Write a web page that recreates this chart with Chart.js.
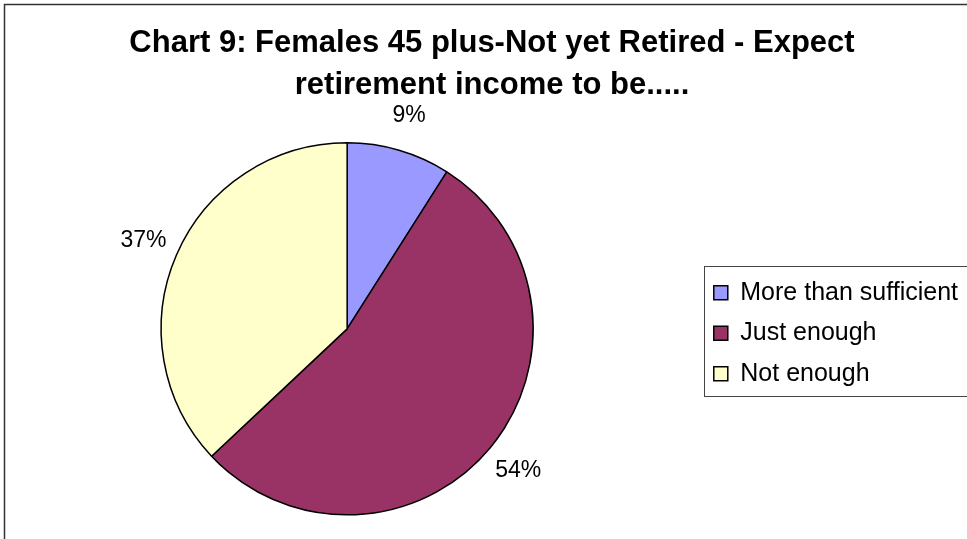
<!DOCTYPE html>
<html>
<head>
<meta charset="utf-8">
<title>Chart 9</title>
<script src="https://cdn.jsdelivr.net/npm/chart.js@4/dist/chart.umd.min.js"></script>
<style>
  html, body { margin: 0; padding: 0; background: #fff; overflow: hidden; }
  canvas { display: block; }
</style>
</head>
<body>
<canvas id="chart9" width="990" height="560"></canvas>
<script>
const titleLines = ['Chart 9: Females 45 plus-Not yet Retired - Expect', 'retirement income to be.....'];
const categories = ['More than sufficient', 'Just enough', 'Not enough'];
const shares = [9, 54, 37];
const sliceColors = ['#9999FF', '#993366', '#FFFFCC'];

const FONT = '"Liberation Sans", Arial, sans-serif';

// white page with a frame; right and bottom edges sit past the window
const frame = {
  id: 'frame',
  beforeDraw(chart) {
    const ctx = chart.ctx;
    ctx.save();
    ctx.fillStyle = '#fff';
    ctx.fillRect(0, 0, chart.width, chart.height);
    ctx.strokeStyle = '#333';
    ctx.lineWidth = 1.5;
    ctx.strokeRect(4.5, 4.5, chart.width - 9, chart.height - 9);
    ctx.restore();
  }
};

// empty box between pie and legend so the pie sits left of the title centre
// (display:false keeps it out of the legend's width share)
const gap = {
  id: 'gap',
  beforeInit(chart) {
    Chart.layouts.addBox(chart, {
      position: 'right',
      weight: 0,
      fullSize: false,
      options: { display: false },
      isHorizontal() { return false; },
      update(maxWidth, maxHeight) {
        this.width = 20;
        this.height = maxHeight;
      },
      draw() {}
    });
  }
};

// percentage text outside each slice
const sliceLabels = {
  id: 'sliceLabels',
  afterDatasetsDraw(chart) {
    const ctx = chart.ctx;
    const values = chart.data.datasets[0].data;
    ctx.save();
    ctx.font = '23px ' + FONT;
    ctx.fillStyle = '#000';
    ctx.textAlign = 'center';
    ctx.textBaseline = 'middle';
    chart.getDatasetMeta(0).data.forEach((arc, i) => {
      const p = arc.getProps(['x', 'y', 'startAngle', 'endAngle', 'outerRadius'], true);
      const mid = (p.startAngle + p.endAngle) / 2;
      const d = p.outerRadius + 36;
      ctx.fillText(values[i] + '%', p.x + Math.cos(mid) * d, p.y + Math.sin(mid) * d);
    });
    ctx.restore();
  }
};

// box round the legend entries, open on the right
const legendFrame = {
  id: 'legendFrame',
  afterDraw(chart) {
    const hits = chart.legend && chart.legend.legendHitBoxes;
    if (!hits || !hits.length) return;
    const ctx = chart.ctx;
    const first = hits[0], last = hits[hits.length - 1];
    const left = Math.round(first.left - 10) + 0.5;
    const top = Math.round(first.top - 14) + 0.5;
    const bottom = Math.round(last.top + last.height + 10) + 0.5;
    ctx.save();
    ctx.strokeStyle = '#444';
    ctx.lineWidth = 1;
    ctx.strokeRect(left, top, chart.width - left + 10, bottom - top);
    ctx.restore();
  }
};

new Chart(document.getElementById('chart9'), {
  type: 'pie',
  data: {
    labels: categories,
    datasets: [{
      data: shares,
      backgroundColor: sliceColors,
      borderColor: '#000',
      borderWidth: 1.5
    }]
  },
  options: {
    responsive: false,
    animation: false,
    radius: 186,
    layout: { padding: { left: 16, right: 22, top: 0, bottom: 12 } },
    plugins: {
      title: {
        display: true,
        text: titleLines,
        color: '#000',
        font: { family: FONT, size: 31, weight: 'bold', lineHeight: 1.35 },
        padding: { top: 23, bottom: 3 }
      },
      legend: {
        position: 'right',
        fullSize: false,
        // blank title only nudges the entries a little lower
        title: { display: true, text: '', font: { size: 9, lineHeight: 1 }, padding: 0 },
        labels: {
          boxWidth: 14,
          boxHeight: 14,
          padding: 15.5,
          color: '#000',
          font: { family: FONT, size: 25 }
        }
      },
      tooltip: { enabled: false }
    }
  },
  plugins: [frame, gap, sliceLabels, legendFrame]
});
</script>
</body>
</html>
